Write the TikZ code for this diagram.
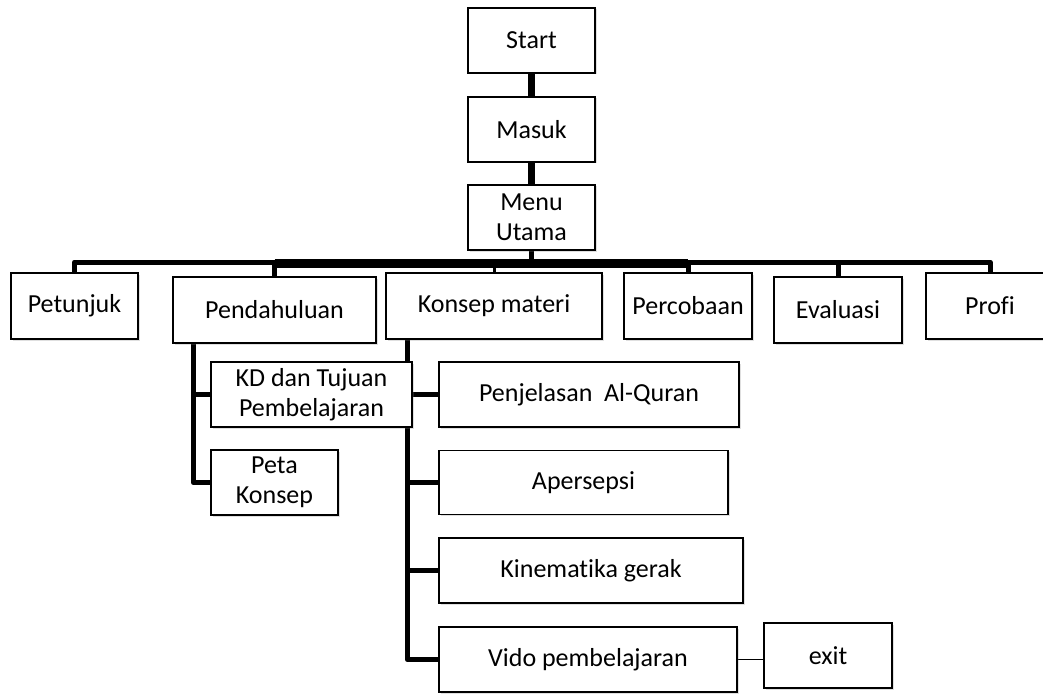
\documentclass[tikz,border=0pt]{standalone}
\usepackage{fontspec}
\setmainfont{Carlito}[Ligatures=NoCommon]
\usetikzlibrary{shadows,backgrounds}
\tikzset{box/.style={draw, line width=1.5pt, fill=white, inner sep=0pt, align=center, font=\fontsize{26}{30}\selectfont, drop shadow={shadow xshift=1.5pt, shadow yshift=-1.5pt, opacity=0.25}}, link/.style={line width=5pt, line join=round}}

\begin{document}
\begin{tikzpicture}[x=1pt,y=-1pt]
  \useasboundingbox (0,0) rectangle (1043,695);
   \node[box, minimum width=127pt, minimum height=65pt] (start) at (531.5, 40.5) {Start};
   \node[box, minimum width=127pt, minimum height=65pt] (masuk) at (531.5,129.5) {Masuk};
   \node[box, minimum width=127pt, minimum height=65pt] (menu)  at (531.5,217.5) {Menu\\Utama};

   \node[box, minimum width=127pt, minimum height=66pt] (petunjuk)    at ( 74.5,306) {Petunjuk};
   \node[box, minimum width=203pt, minimum height=66pt] (pendahuluan) at (274.5,310) {Pendahuluan};
   \node[box, minimum width=216pt, minimum height=66pt] (konsep)      at (494.0,306) {Konsep materi};
   \node[box, minimum width=128pt, minimum height=66pt] (percobaan)   at (688.0,306) {Percobaan};
   \node[box, minimum width=128pt, minimum height=66pt] (evaluasi)    at (838.0,310) {Evaluasi};
   \node[box, minimum width=140pt, minimum height=66pt] (profi)       at (996.0,306) {\hspace*{-12pt}Profi};

   \node[box, minimum width=201pt, minimum height=65pt] (kd)   at (311.5,394.5) {KD dan Tujuan\\Pembelajaran};
   \node[box, minimum width=127pt, minimum height=65pt] (peta) at (274.5,482.5) {Peta\\Konsep};

   \node[box, minimum width=300pt, minimum height=65pt] (penjelasan) at (589.0,394.5) {Penjelasan\ \ Al-Quran};
   \node[box, minimum width=289pt, minimum height=64pt] (apersepsi)  at (583.5,482.5) {Apersepsi};
   \node[box, minimum width=304pt, minimum height=65pt] (kinematika) at (591.0,570.5) {Kinematika gerak};
   \node[box, minimum width=298pt, minimum height=65pt] (vido)       at (588.0,659.5) {Vido pembelajaran};
   \node[box, minimum width=128pt, minimum height=65pt] (exit)       at (828.0,655.5) {exit};

   \coordinate (bus)  at (531.5,262);
   \coordinate (bus2) at (531.5,263.5);

   \begin{scope}[on background layer]
    \draw[link, line width=7pt] (start) -- (masuk);
    \draw[link, line width=7pt] (masuk) -- (menu);
    \draw[link] (menu) -- (bus);
    \draw[link] (petunjuk.north) |- (bus) -| ([xshift=-6pt]profi.north);
    \draw[link, line width=9pt] (pendahuluan.north |- bus2) -- (percobaan.north |- bus2);
    \draw[link] (pendahuluan.north) -- (pendahuluan.north |- bus);
    \draw[link, line width=3pt] (konsep.north) -- (konsep.north |- bus);
    \draw[link] (percobaan.north) -- (percobaan.north |- bus);
    \draw[link] (evaluasi.north) -- (evaluasi.north |- bus);

    \draw[link] ([xshift=21pt]pendahuluan.south west) |- (peta.west);
    \draw[link] (kd.west) -- +(-17,0);

    \draw[link] ([xshift=22pt]konsep.south west) |- (vido.west);
    \draw[link] (kd.east) -- (penjelasan.west);
    \draw[link] (apersepsi.west) -- +(-31,0);
    \draw[link] (kinematika.west) -- +(-31,0);
    \draw[line width=1.5pt] (vido.east) -- (vido.east -| exit.west);
   \end{scope}
 \end{tikzpicture}
\end{document}
